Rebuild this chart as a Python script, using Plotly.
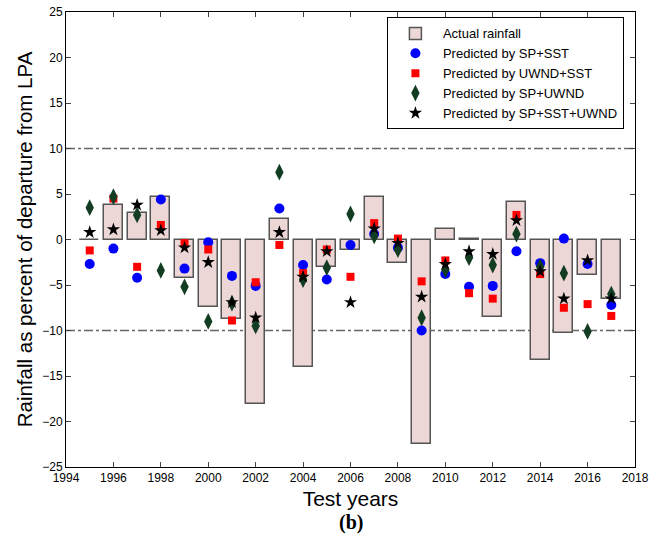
import plotly.graph_objects as go

years = list(range(1995, 2018))
actual = [0, 3.8, 2.9, 4.7, -4.2, -7.4, -8.7, -18.1, 2.2, -14.0, -3.0, -1.2, 4.7, -2.6,
          -22.5, 1.1, 0.1, -8.5, 4.1, -13.2, -10.3, -3.9, -6.5]
sp_sst = [-2.7, -1.0, -4.2, 4.4, -3.2, -0.3, -4.0, -5.1, 3.4, -2.8, -4.4, -0.6, 0.6, -0.9,
          -10.0, -3.8, -5.2, -5.1, -1.3, -2.6, 0.1, -2.7, -7.2]
uwnd_sst = [-1.2, 4.5, -3.0, 1.6, -0.4, -1.1, -8.9, -4.7, -0.6, -3.7, -1.1, -4.1, 1.8, 0.1,
            -4.6, -2.3, -5.9, -6.5, 2.7, -3.8, -7.5, -7.1, -8.4]
sp_uwnd = [3.5, 4.7, 2.7, -3.4, -5.2, -9.0, -7.0, -9.5, 7.4, -4.4, -3.1, 2.8, 0.4, -1.1,
           -8.6, -3.3, -2.0, -2.8, 0.6, -3.0, -3.7, -10.1, -6.0]
sp_sst_uwnd = [0.8, 1.1, 3.8, 1.0, -0.9, -2.5, -6.9, -8.6, 0.8, -4.1, -1.3, -6.9, 1.2, -0.4,
               -6.3, -2.7, -1.3, -1.6, 2.1, -3.5, -6.5, -2.3, -6.5]
ref_levels = [10, -10]
x_ticks = list(range(1994, 2019, 2))
y_ticks = list(range(-25, 26, 5))

FONT = "Liberation Sans, Arial, Helvetica, sans-serif"

fig = go.Figure()
fig.add_trace(go.Bar(x=years, y=actual, width=0.8, name="Actual rainfall",
                     marker=dict(color="#ecd6d6", line=dict(color="#555555", width=1.5))))
fig.add_trace(go.Scatter(x=years, y=sp_sst, mode="markers", name="Predicted by SP+SST",
                         marker=dict(symbol="circle", size=10, color="#0000ff")))
fig.add_trace(go.Scatter(x=years, y=uwnd_sst, mode="markers", name="Predicted by UWND+SST",
                         marker=dict(symbol="square", size=8, color="#ff0000")))
fig.add_trace(go.Scatter(x=years, y=sp_uwnd, mode="markers", name="Predicted by SP+UWND",
                         marker=dict(symbol="diamond-tall", size=12, color="#123d22")))
fig.add_trace(go.Scatter(x=years, y=sp_sst_uwnd, mode="markers", name="Predicted by SP+SST+UWND",
                         marker=dict(symbol="star", size=10, color="#000000")))

for lv in ref_levels:
    fig.add_shape(type="line", xref="paper", x0=0, x1=1, yref="y", y0=lv, y1=lv,
                  line=dict(color="#666666", width=1.5, dash="dashdot"), layer="below")

fig.update_layout(
    width=656, height=541,
    margin=dict(l=66, r=21, t=12, b=74),
    plot_bgcolor="white", paper_bgcolor="white",
    font=dict(family=FONT, size=12, color="black"),
    showlegend=True,
    bargap=0,
    legend=dict(x=0.564, y=0.988, xanchor="left", yanchor="top",
                bgcolor="white", bordercolor="black", borderwidth=1,
                font=dict(size=13, family=FONT), tracegroupgap=0, itemwidth=45),
    xaxis=dict(range=[1994, 2018], tickvals=x_ticks, ticks="inside", ticklen=5,
               showline=True, linecolor="black", linewidth=1, mirror="ticks",
               showgrid=False, zeroline=False, tickfont=dict(size=12), automargin=False,
               title=dict(text="Test years", font=dict(size=21), standoff=6)),
    yaxis=dict(range=[-25, 25], tickvals=y_ticks, ticks="inside", ticklen=5,
               showline=True, linecolor="black", linewidth=1, mirror="ticks",
               showgrid=False, zeroline=False, tickfont=dict(size=12), automargin=False,
               title=dict(text="Rainfall as percent of departure from LPA", font=dict(size=20.5), standoff=4)),
)
fig.add_annotation(text="<b>(b)</b>", xref="paper", yref="paper", x=0.5, y=-0.093,
                   xanchor="center", yanchor="top", showarrow=False,
                   font=dict(family="Liberation Serif, Times New Roman, serif", size=20))

fig.write_html("out.html")
